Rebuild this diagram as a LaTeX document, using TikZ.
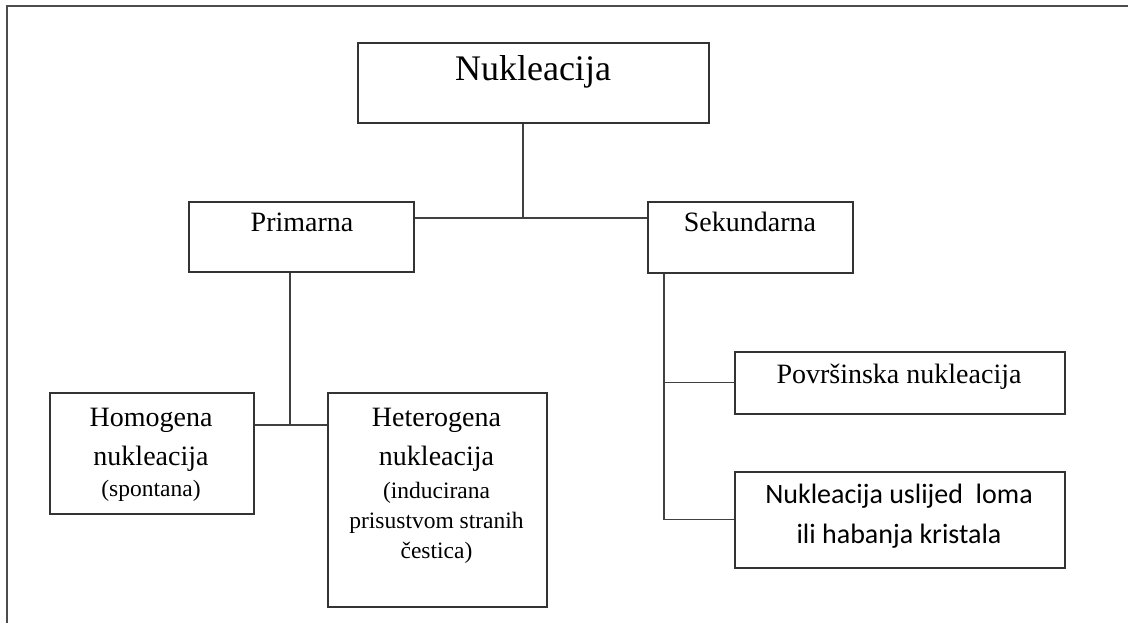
\documentclass[tikz,border=0pt]{standalone}
\usepackage{fontspec}
\setmainfont{Liberation Serif}
\newfontfamily\calfont{Carlito}
\usetikzlibrary{positioning}

\begin{document}
\begin{tikzpicture}[x=1pt,y=-1pt,
  box/.style={draw=black!80, line width=1.6pt, inner sep=0pt, anchor=north west},
  txt/.style={font=\fontsize{28}{39}\selectfont, align=center, inner sep=0pt},
  sub/.style={font=\fontsize{23.5}{30}\selectfont, align=center, inner sep=0pt},
  conn/.style={draw=black!75, line width=1.3pt}]
  \useasboundingbox (0,0) rectangle (1128,623);
  \draw[draw=black!70, line width=2.5pt] (7,623) -- (7,6) -- (1128,6);

  % boxes
  \node[box, minimum width=351pt, minimum height=80pt]  (N)  at (357,42)  {};
  \node[box, minimum width=225pt, minimum height=70pt]  (P)  at (188,201) {};
  \node[box, minimum width=205pt, minimum height=71pt]  (S)  at (647,201) {};
  \node[box, minimum width=204pt, minimum height=121pt] (Ho) at (49,392)  {};
  \node[box, minimum width=219pt, minimum height=214pt] (He) at (327,392) {};
  \node[box, minimum width=330pt, minimum height=62pt]  (Po) at (734,351) {};
  \node[box, minimum width=330pt, minimum height=96pt]  (L)  at (734,471) {};

  % texts
  \node[txt, font=\fontsize{36}{40}\selectfont, anchor=base] (Nt) at (533,81) {Nukleacija};
  \node[txt, anchor=base] (Pt)  at (302,231) {Primarna};
  \node[txt, anchor=base] (St)  at (750,231) {Sekundarna};
  \node[txt, anchor=north] (Hot) at (151,407.5) {Homogena\\nukleacija};
  \node[sub, anchor=base]  (Hos) at (151,496) {(spontana)};
  \node[txt, anchor=north] (Het) at (436.5,407.5) {Heterogena\\nukleacija};
  \node[sub, anchor=north] (Hes) at (436.5,482) {(inducirana\\prisustvom stranih\\čestica)};
  \node[txt, anchor=base]  (Pot) at (899,383) {Površinska nukleacija};
  \node[txt, font=\calfont\fontsize{28}{40}\selectfont, anchor=north] (Lt) at (899,484)
    {Nukleacija uslijed \ loma\\ili habanja kristala};

  % connectors
  \coordinate (j1) at (523,218);
  \coordinate (j2) at (290,425);
  \coordinate (j3) at (664,300);
  \draw[conn] (N.south -| j1) -- (j1);
  \draw[conn] (P.east |- j1) -- (S.west |- j1);
  \draw[conn] (P.south -| j2) -- (j2);
  \draw[conn] (Ho.east |- j2) -- (He.west |- j2);
  \draw[conn] (S.south -| j3) |- (L.west);
  \draw[conn] (j3 |- Po.west) -- (Po.west);
\end{tikzpicture}
\end{document}
